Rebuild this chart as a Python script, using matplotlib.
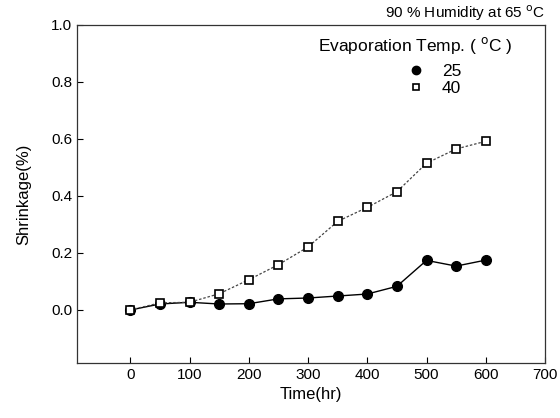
import matplotlib
matplotlib.use("Agg")
import matplotlib.pyplot as plt

plt.rcParams['font.family'] = ['Liberation Sans', 'DejaVu Sans']

# data
time_hr = [0, 50, 100, 150, 200, 250, 300, 350, 400, 450, 500, 550, 600]
shrink_25 = [0.0, 0.021, 0.027, 0.021, 0.022, 0.039, 0.042, 0.049, 0.056, 0.083, 0.174, 0.154, 0.175]
shrink_40 = [0.0, 0.025, 0.027, 0.057, 0.106, 0.159, 0.221, 0.311, 0.360, 0.415, 0.515, 0.565, 0.592]
xticks = [0, 100, 200, 300, 400, 500, 600, 700]
yticks = [0.0, 0.2, 0.4, 0.6, 0.8, 1.0]

fig = plt.figure(figsize=(5.6, 4.18), dpi=100)
ax = fig.add_axes([0.1375, 0.1316, 0.8357, 0.8086])

ax.plot(time_hr, shrink_25, color='black', lw=1.0, marker='o', ms=7,
        mfc='black', mec='black', label='25')
ax.plot(time_hr, shrink_40, color='#444444', lw=0.9, ls=(0, (2, 1.5)), marker='s', ms=6,
        mfc='white', mec='black', mew=1.2, label='40')

ax.set_xlim(-90, 700)
ax.set_ylim(-0.186, 1.0)
ax.set_xticks(xticks)
ax.set_yticks(yticks)
ax.set_yticklabels(['%.1f' % v for v in yticks])
ax.tick_params(direction='in', length=4, width=0.8, labelsize=11, top=False, right=False)
for s in ax.spines.values():
    s.set_linewidth(0.9)
    s.set_color('#333333')

ax.set_xlabel('Time(hr)', fontsize=12, labelpad=4)
ax.set_ylabel('Shrinkage(%)', fontsize=12, labelpad=14)

fig.text(0.973, 0.944, '90 % Humidity at 65 $^{\\mathrm{o}}$C', ha='right', va='bottom', fontsize=11)

# legend title and entries
fig.text(0.741, 0.891, 'Evaporation Temp. ( $^{\\mathrm{o}}$C )', ha='center', va='center', fontsize=12.5)
leg = ax.legend(loc='upper left', bbox_to_anchor=(0.727, 0.848), bbox_transform=fig.transFigure,
                frameon=False, fontsize=12.5, handlelength=1.0, handletextpad=1.0,
                labelspacing=0.15, borderpad=0, borderaxespad=0)
for line in leg.get_lines():
    line.set_linestyle('none')
leg.legend_handles[0].set_markersize(6)
leg.legend_handles[1].set_markersize(5)

fig.savefig('out.png', dpi=100)
